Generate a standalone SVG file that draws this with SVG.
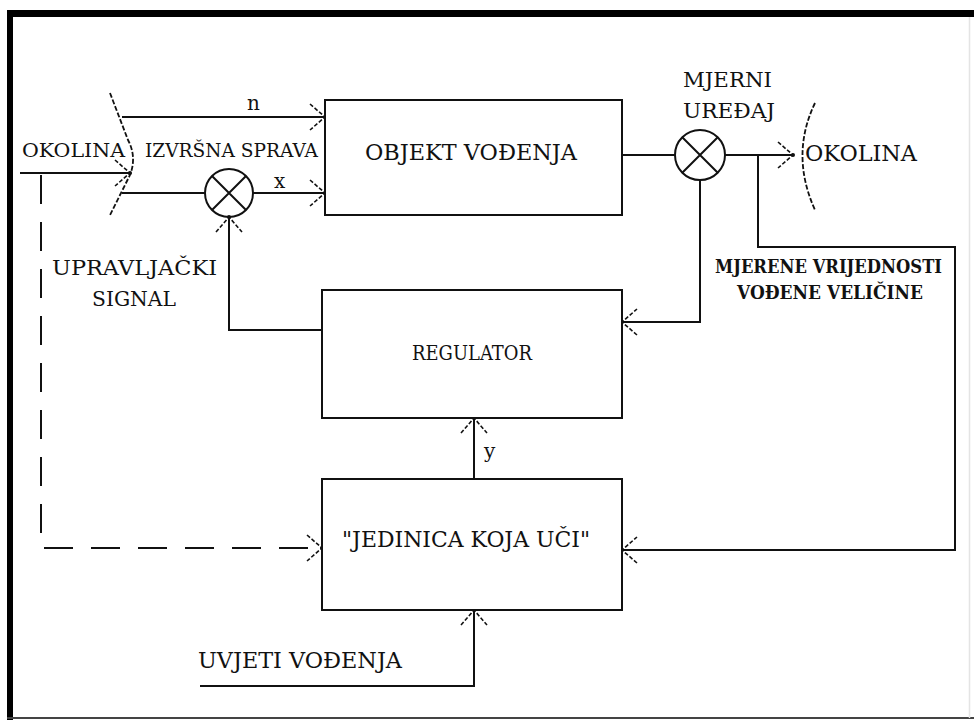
<svg xmlns="http://www.w3.org/2000/svg" width="974" height="720" viewBox="0 0 974 720">
<defs>
<style>
.ln{fill:none;stroke:#111;stroke-width:2}
.dash{fill:none;stroke:#111;stroke-width:2;stroke-dasharray:29 18}
.bx{fill:#fff;stroke:#111;stroke-width:2}
text{font-family:'DejaVu Serif','Liberation Serif',serif;fill:#111}
.b{font-weight:bold}
</style>
<marker id="ar" markerUnits="userSpaceOnUse" markerWidth="20" markerHeight="32" viewBox="-17 -16 20 32" refX="0" refY="0" orient="auto">
<path d="M-15,-13 L0,0 L-15,13" fill="none" stroke="#111" stroke-width="1.6" stroke-dasharray="4 2"/>
<circle cx="0" cy="0" r="2" fill="#111"/>
</marker>
</defs>
<rect width="974" height="720" fill="#fff"/>
<g id="frame">
<rect x="7" y="10" width="967" height="7" fill="#000"/>
<rect x="7" y="10" width="6" height="710" fill="#000"/>
<line x1="7" y1="718" x2="974" y2="718" stroke="#444" stroke-width="2"/>
<line x1="969.5" y1="17" x2="969.5" y2="718" stroke="#e4e4e4" stroke-width="1.5"/>
</g>
<g id="connectors">
<path class="ln" d="M122,117 L325,117" marker-end="url(#ar)"/>
<path class="ln" d="M122,193 L205,193"/>
<path class="ln" d="M253,193 L325,193" marker-end="url(#ar)"/>
<path class="ln" d="M20,173 L130,173" marker-end="url(#ar)"/>
<path class="ln" d="M622,155 L675,155"/>
<path class="ln" d="M725,155 L793,155" marker-end="url(#ar)"/>
<path class="ln" d="M758,155 L758,247 L955,247 L955,550 L622,550" marker-end="url(#ar)"/>
<path class="ln" d="M700,180 L700,322 L622,322" marker-end="url(#ar)"/>
<path class="ln" d="M322,330 L229,330 L229,217" marker-end="url(#ar)"/>
<path class="ln" d="M474,479 L474,418" marker-end="url(#ar)"/>
<path class="ln" d="M200,686 L474,686 L474,610" marker-end="url(#ar)"/>
<path class="dash" d="M41,175 L41,548 L322,548" marker-end="url(#ar)"/>
</g>
<g id="env-left">
<path d="M110,93 L128,140 Q137,157 130,175 L110,215" fill="none" stroke="#111" stroke-width="1.8" stroke-dasharray="5 2"/>
<text x="22" y="157" font-size="19" textLength="103" lengthAdjust="spacingAndGlyphs">OKOLINA</text>
</g>
<g id="izvrsna-sprava">
<text x="145" y="157" font-size="19" textLength="173" lengthAdjust="spacingAndGlyphs">IZVRŠNA SPRAVA</text>
<text x="247" y="110" font-size="20">n</text>
<text x="274" y="188" font-size="20">x</text>
<circle class="ln" cx="229" cy="193" r="24"/>
<path class="ln" d="M212,176 L246,210 M246,176 L212,210"/>
</g>
<g id="objekt">
<rect class="bx" x="325" y="100" width="297" height="115"/>
<text x="365" y="160" font-size="23" textLength="212" lengthAdjust="spacingAndGlyphs">OBJEKT VOĐENJA</text>
</g>
<g id="mjerni-uredjaj">
<circle class="ln" cx="700" cy="155" r="25"/>
<path class="ln" d="M682,137 L718,173 M718,137 L682,173"/>
<text x="683" y="87" font-size="20" textLength="89" lengthAdjust="spacingAndGlyphs">MJERNI</text>
<text x="683" y="118" font-size="20" textLength="92" lengthAdjust="spacingAndGlyphs">UREĐAJ</text>
</g>
<g id="env-right">
<path d="M815,103 Q790,155 815,210" fill="none" stroke="#111" stroke-width="1.8" stroke-dasharray="5 2"/>
<text x="805" y="161" font-size="22" textLength="112" lengthAdjust="spacingAndGlyphs">OKOLINA</text>
</g>
<g id="mjerene">
<text class="b" x="715" y="273" font-size="18" textLength="227" lengthAdjust="spacingAndGlyphs">MJERENE VRIJEDNOSTI</text>
<text class="b" x="737" y="299" font-size="18" textLength="186" lengthAdjust="spacingAndGlyphs">VOĐENE VELIČINE</text>
</g>
<g id="upravljacki">
<text x="52" y="275" font-size="20" textLength="165" lengthAdjust="spacingAndGlyphs">UPRAVLJAČKI</text>
<text x="92" y="306" font-size="20" textLength="84" lengthAdjust="spacingAndGlyphs">SIGNAL</text>
</g>
<g id="regulator">
<rect class="bx" x="322" y="290" width="300" height="128"/>
<text x="412" y="360" font-size="21" textLength="120" lengthAdjust="spacingAndGlyphs">REGULATOR</text>
</g>
<g id="y-label">
<text x="484" y="458" font-size="20">y</text>
</g>
<g id="jedinica">
<rect class="bx" x="322" y="479" width="300" height="131"/>
<text x="342" y="547" font-size="23" textLength="248" lengthAdjust="spacingAndGlyphs">"JEDINICA KOJA UČI"</text>
</g>
<g id="uvjeti">
<text x="198" y="668" font-size="23" textLength="204" lengthAdjust="spacingAndGlyphs">UVJETI VOĐENJA</text>
</g>
</svg>
